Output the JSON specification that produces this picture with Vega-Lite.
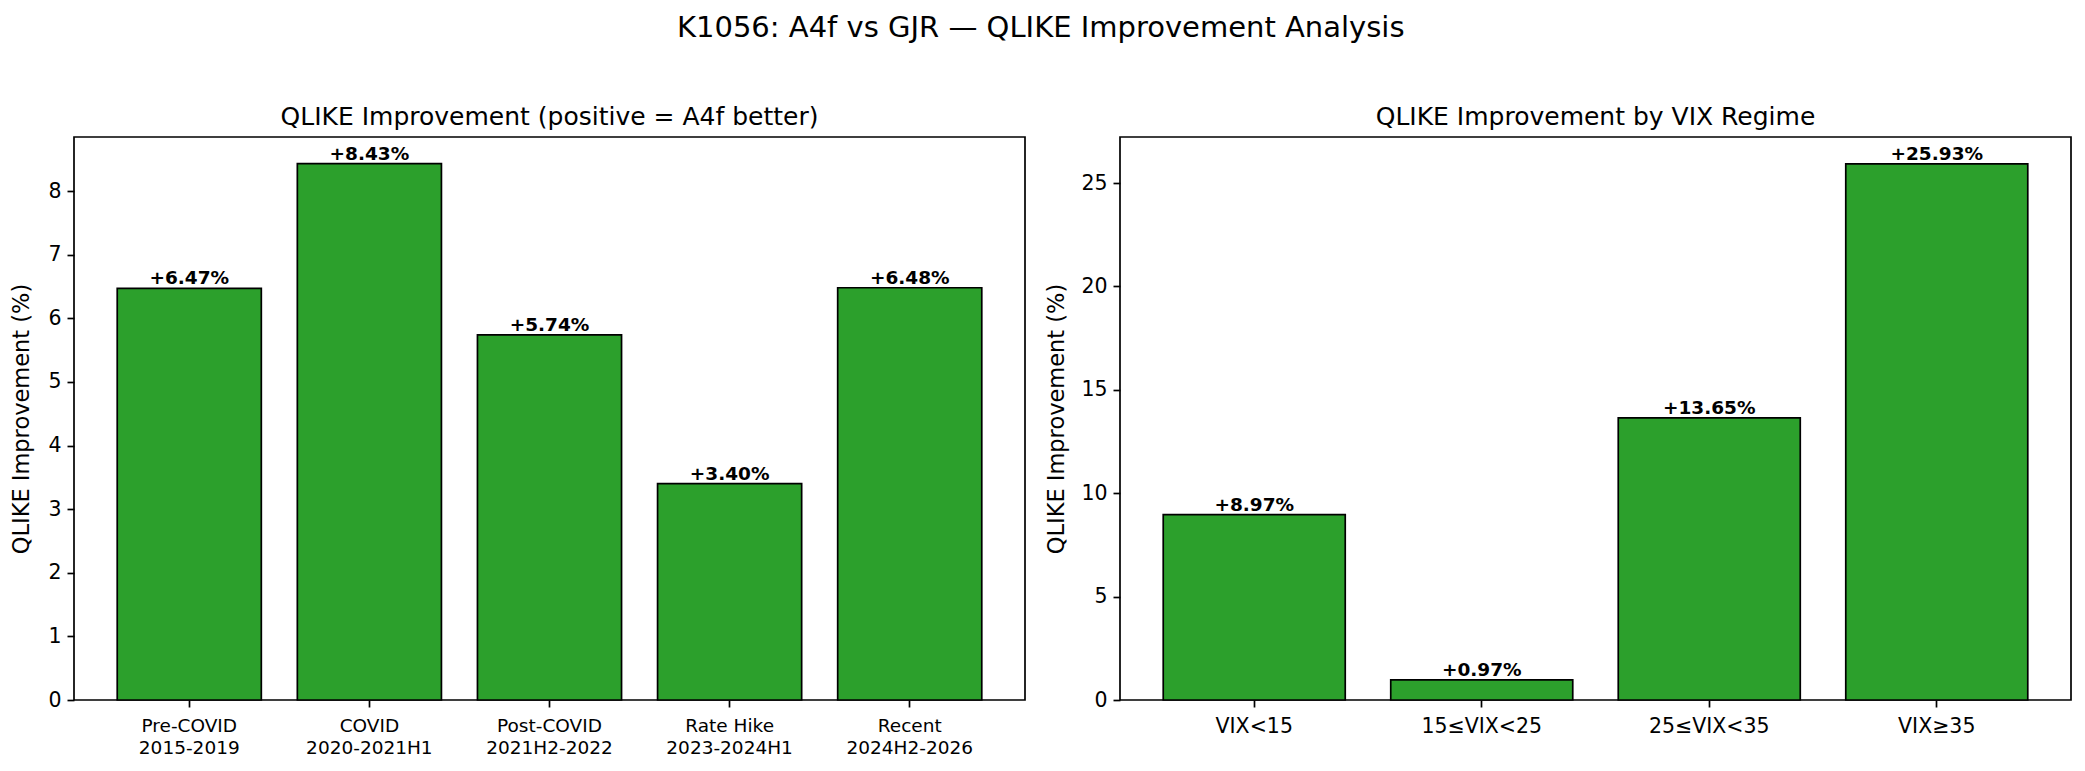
{
  "$schema": "https://vega.github.io/schema/vega-lite/v6.json",
  "background": "white",
  "padding": {"left": 9, "top": 13, "right": 5, "bottom": 5},
  "title": {"text": "K1056: A4f vs GJR — QLIKE Improvement Analysis", "fontSize": 29, "font": "DejaVu Sans", "fontWeight": "normal", "anchor": "middle", "offset": 61, "color": "black"},
  "config": {
    "font": "DejaVu Sans",
    "view": {"stroke": "black", "strokeWidth": 1.7},
    "axis": {"domain": false, "grid": false, "tickColor": "black", "tickWidth": 1.7, "tickSize": 7, "labelColor": "black", "titleColor": "black", "labelFont": "DejaVu Sans", "titleFont": "DejaVu Sans", "titleFontWeight": "normal", "labelPadding": 6}
  },
  "spacing": 95,
  "bounds": "flush",
  "datasets": {
    "period": [
      {"period": "Pre-COVID|2015-2019", "improvement": 6.47, "label": "+6.47%"},
      {"period": "COVID|2020-2021H1", "improvement": 8.43, "label": "+8.43%"},
      {"period": "Post-COVID|2021H2-2022", "improvement": 5.74, "label": "+5.74%"},
      {"period": "Rate Hike|2023-2024H1", "improvement": 3.40, "label": "+3.40%"},
      {"period": "Recent|2024H2-2026", "improvement": 6.48, "label": "+6.48%"}
    ],
    "vix": [
      {"regime": "VIX<15", "improvement": 8.97, "label": "+8.97%"},
      {"regime": "15≤VIX<25", "improvement": 0.97, "label": "+0.97%"},
      {"regime": "25≤VIX<35", "improvement": 13.65, "label": "+13.65%"},
      {"regime": "VIX≥35", "improvement": 25.93, "label": "+25.93%"}
    ]
  },
  "hconcat": [
    {
      "width": 951,
      "height": 563,
      "title": {"text": "QLIKE Improvement (positive = A4f better)", "fontSize": 25, "fontWeight": "normal", "frame": "group", "offset": 7.5, "color": "black"},
      "data": {"name": "period"},
      "encoding": {
        "x": {"field": "period", "type": "nominal", "sort": null, "scale": {"paddingInner": 0.2, "paddingOuter": 0.24}, "axis": {"title": null, "labelAngle": 0, "labelFontSize": 18.5, "labelExpr": "split(datum.label, '|')", "labelLineHeight": 22.3, "labelPadding": 9}},
        "y": {"field": "improvement", "type": "quantitative", "scale": {"domain": [0, 8.85], "nice": false, "zero": true}, "axis": {"title": "QLIKE Improvement (%)", "titleFontSize": 22.5, "labelFontSize": 20.5, "values": [0, 1, 2, 3, 4, 5, 6, 7, 8], "titlePadding": 14.5}}
      },
      "layer": [
        {"mark": {"type": "bar", "color": "#2ca02c", "stroke": "black", "strokeWidth": 1.7}},
        {"mark": {"type": "text", "baseline": "alphabetic", "dy": -4, "fontSize": 18.5, "fontWeight": "bold", "color": "black"}, "encoding": {"text": {"field": "label"}}}
      ]
    },
    {
      "width": 951,
      "height": 563,
      "title": {"text": "QLIKE Improvement by VIX Regime", "fontSize": 25, "fontWeight": "normal", "frame": "group", "offset": 7.5, "color": "black"},
      "data": {"name": "vix"},
      "encoding": {
        "x": {"field": "regime", "type": "nominal", "sort": null, "scale": {"paddingInner": 0.2, "paddingOuter": 0.19}, "axis": {"title": null, "labelAngle": 0, "labelFontSize": 20.5, "labelPadding": 9.5}},
        "y": {"field": "improvement", "type": "quantitative", "scale": {"domain": [0, 27.23], "nice": false, "zero": true}, "axis": {"title": "QLIKE Improvement (%)", "titleFontSize": 22.5, "labelFontSize": 20.5, "values": [0, 5, 10, 15, 20, 25], "titlePadding": 12}}
      },
      "layer": [
        {"mark": {"type": "bar", "color": "#2ca02c", "stroke": "black", "strokeWidth": 1.7}},
        {"mark": {"type": "text", "baseline": "alphabetic", "dy": -4, "fontSize": 18.5, "fontWeight": "bold", "color": "black"}, "encoding": {"text": {"field": "label"}}}
      ]
    }
  ]
}
